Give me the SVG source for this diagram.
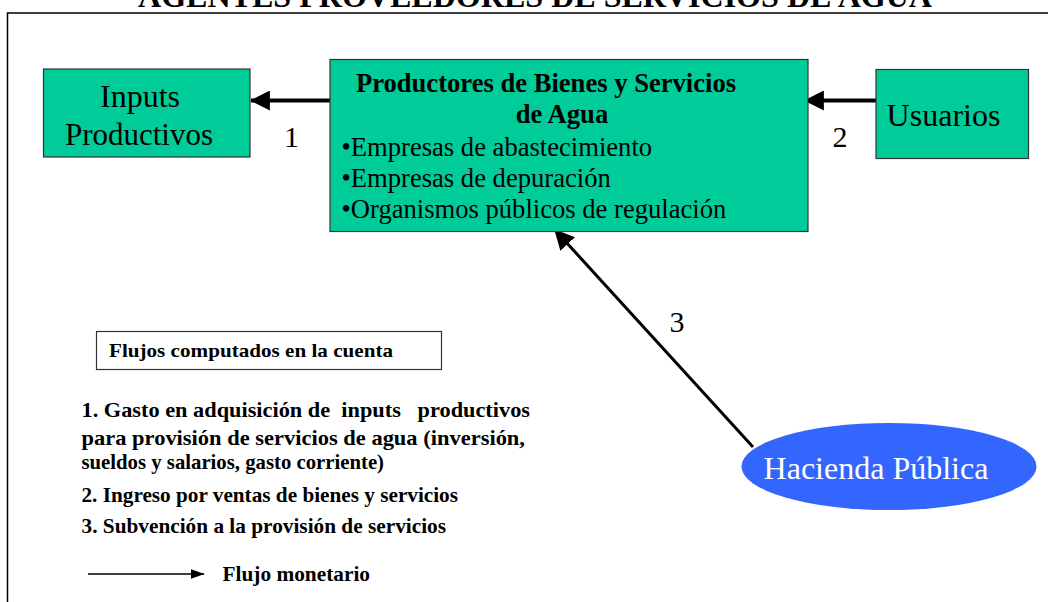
<svg xmlns="http://www.w3.org/2000/svg" width="1048" height="602" viewBox="0 0 1048 602">
<defs>
<style>
.serif{font-family:"Liberation Serif","Times New Roman",serif;fill:#000}
.b{font-weight:bold}
.box{fill:#00CC99;stroke:#333;stroke-width:1.2}
.conn{stroke:#000;fill:none}
.pre{white-space:pre}
</style>
<marker id="ahBig" markerUnits="userSpaceOnUse" markerWidth="20" markerHeight="20" viewBox="0 0 18 18" refX="17" refY="9" orient="auto">
<path d="M0,0 L18,9 L0,18 Z" fill="#000"/>
</marker>
<marker id="ahSmall" markerUnits="userSpaceOnUse" markerWidth="14" markerHeight="10" viewBox="0 0 13 9" refX="12.5" refY="4.5" orient="auto">
<path d="M0,0 L13,4.5 L0,9 Z" fill="#000"/>
</marker>
</defs>
<rect width="1048" height="602" fill="#fff"/>
<g id="frame">
<path d="M7.5,602 V13 H1048" fill="none" stroke="#000" stroke-width="1.5"/>
</g>
<text id="title" class="serif b" x="535" y="7" font-size="32" text-anchor="middle" textLength="794" lengthAdjust="spacingAndGlyphs">AGENTES PROVEEDORES DE SERVICIOS DE AGUA</text>
<g id="connectors">
<line class="conn" x1="330" y1="100.5" x2="251" y2="100.5" stroke-width="4" marker-end="url(#ahBig)"/>
<line class="conn" x1="876" y1="100.5" x2="805" y2="100.5" stroke-width="4" marker-end="url(#ahBig)"/>
<line class="conn" x1="753" y1="447" x2="555" y2="230" stroke-width="3" marker-end="url(#ahBig)"/>
<text class="serif" x="291.5" y="147" font-size="30" text-anchor="middle">1</text>
<text class="serif" x="840" y="147" font-size="30" text-anchor="middle">2</text>
<text class="serif" x="677" y="332" font-size="30" text-anchor="middle">3</text>
</g>
<g id="inputs">
<rect class="box" x="43.5" y="69" width="206.5" height="88"/>
<text class="serif" x="140" y="107" font-size="32" text-anchor="middle">Inputs</text>
<text class="serif" x="139" y="145" font-size="31" text-anchor="middle">Productivos</text>
</g>
<g id="productores">
<rect class="box" x="330" y="59.5" width="478" height="172"/>
<text class="serif b" x="546" y="92" font-size="26.6" text-anchor="middle">Productores de Bienes y Servicios</text>
<text class="serif b" x="562" y="123" font-size="26.6" text-anchor="middle">de Agua</text>
<text class="serif" x="341.5" y="156" font-size="26.6">•Empresas de abastecimiento</text>
<text class="serif" x="341.5" y="187" font-size="26.6">•Empresas de depuración</text>
<text class="serif" x="341.5" y="218" font-size="26.6">•Organismos públicos de regulación</text>
</g>
<g id="usuarios">
<rect class="box" x="876" y="69.5" width="152.5" height="89"/>
<text class="serif" x="943.5" y="126" font-size="32" text-anchor="middle">Usuarios</text>
</g>
<g id="hacienda">
<ellipse cx="889" cy="466.5" rx="147.5" ry="43.5" fill="#3366FF"/>
<text class="serif" x="876" y="479" font-size="32" text-anchor="middle" fill="#fff" style="fill:#fff">Hacienda Pública</text>
</g>
<g id="legend">
<rect x="96.5" y="331.5" width="345" height="38" fill="#fff" stroke="#333" stroke-width="1.2"/>
<text class="serif b" x="109" y="357" font-size="19.5" textLength="284" lengthAdjust="spacingAndGlyphs">Flujos computados en la cuenta</text>
<text class="serif b pre" x="81.5" y="417" font-size="21" textLength="448.5" lengthAdjust="spacingAndGlyphs">1. Gasto en adquisición de  inputs   productivos</text>
<text class="serif b" x="81.5" y="444.5" font-size="21" textLength="443.5" lengthAdjust="spacingAndGlyphs">para provisión de servicios de agua (inversión,</text>
<text class="serif b" x="81.5" y="468.5" font-size="21" textLength="302.5" lengthAdjust="spacingAndGlyphs">sueldos y salarios, gasto corriente)</text>
<text class="serif b" x="81.5" y="501.5" font-size="21" textLength="376.5" lengthAdjust="spacingAndGlyphs">2. Ingreso por ventas de bienes y servicios</text>
<text class="serif b" x="81.5" y="532.5" font-size="21" textLength="364.5" lengthAdjust="spacingAndGlyphs">3. Subvención a la provisión de servicios</text>
<line class="conn" x1="88" y1="574" x2="204" y2="574" stroke-width="1.5" marker-end="url(#ahSmall)"/>
<text class="serif b" x="222.5" y="581" font-size="20" textLength="147.5" lengthAdjust="spacingAndGlyphs">Flujo monetario</text>
</g>
</svg>
